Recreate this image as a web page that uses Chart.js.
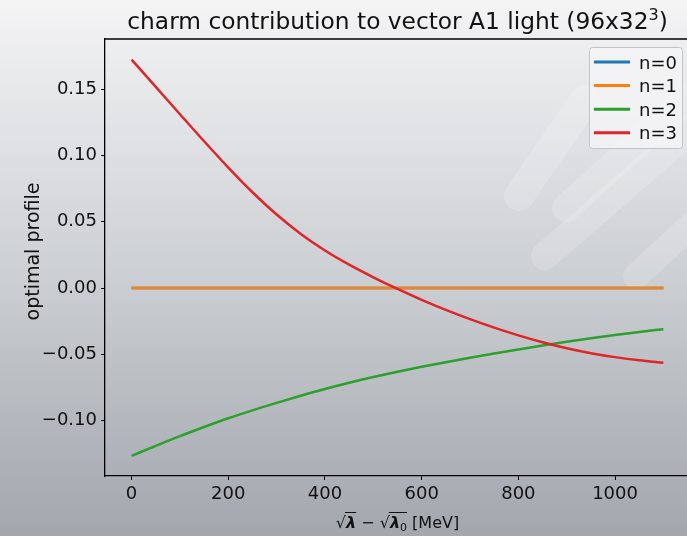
<!DOCTYPE html>
<html>
<head>
<meta charset="utf-8">
<script src="https://cdn.jsdelivr.net/npm/chart.js@4/dist/chart.umd.min.js"></script>
<style>
  html, body { margin: 0; padding: 0; overflow: hidden; width: 687px; height: 536px; background: #d0d3d6; }
  #wrap { position: relative; width: 693px; height: 536px; }
  canvas { display: block; }
</style>
</head>
<body>
<div id="wrap"><canvas id="chart" width="693" height="536"></canvas></div>
<script>
// sqrt(lambda) - sqrt(lambda_0) in MeV
const energies = [0, 50, 100, 150, 200, 250, 300, 350, 400, 450, 500, 550,
                  600, 650, 700, 750, 800, 850, 900, 950, 1000, 1050, 1100];

// optimal profile coefficients for each n
const profileN0 = [0, 0, 0, 0, 0, 0, 0, 0, 0, 0, 0, 0,
                   0, 0, 0, 0, 0, 0, 0, 0, 0, 0, 0];
const profileN1 = [0, 0, 0, 0, 0, 0, 0, 0, 0, 0, 0, 0,
                   0, 0, 0, 0, 0, 0, 0, 0, 0, 0, 0];
const profileN2 = [-0.1265, -0.1190, -0.1117, -0.1048, -0.0982, -0.0922, -0.0866, -0.0812,
                   -0.0761, -0.0714, -0.0671, -0.0631, -0.0594, -0.0559, -0.0526, -0.0494,
                   -0.0463, -0.0433, -0.0405, -0.0379, -0.0355, -0.0332, -0.0310];
const profileN3 = [0.1722, 0.1516, 0.1310, 0.1106, 0.0908, 0.0722, 0.0554, 0.0408,
                   0.0283, 0.0176, 0.0081, -0.0007, -0.0089, -0.0165, -0.0235, -0.0299,
                   -0.0357, -0.0409, -0.0454, -0.0491, -0.0521, -0.0545, -0.0563];

const seriesNames = ['n=0', 'n=1', 'n=2', 'n=3'];
const seriesColors = ['#1f77b4', '#ff7f0e', '#2ca02c', '#df2528'];
const seriesValues = [profileN0, profileN1, profileN2, profileN3];

const xTicks = [0, 200, 400, 600, 800, 1000];
const yTicks = [-0.10, -0.05, 0.00, 0.05, 0.10, 0.15];

const titleText = 'charm contribution to vector A1 light (96x32';
const titleSup = '3';
const yLabel = 'optimal profile';

const FONT = '"DejaVu Sans", "Liberation Sans", sans-serif';

const datasets = seriesValues.map((vals, i) => ({
  label: seriesNames[i],
  data: energies.map((e, k) => ({ x: e, y: vals[k] })),
  borderColor: seriesColors[i],
  backgroundColor: seriesColors[i],
  borderWidth: 2.5,
  pointRadius: 0,
  fill: false,
  cubicInterpolationMode: 'monotone',
  order: seriesValues.length - 1 - i
}));

// figure background: vertical grey gradient plus a faint diagonal emblem
const backdrop = {
  id: 'backdrop',
  beforeDraw(chart) {
    const { ctx, width, height } = chart;
    ctx.save();
    const g = ctx.createLinearGradient(0, 0, 0, height);
    g.addColorStop(0, '#f4f4f5');
    g.addColorStop(0.5, '#cdd0d4');
    g.addColorStop(1, '#a2a7ae');
    ctx.fillStyle = g;
    ctx.fillRect(0, 0, width, height);

    ctx.strokeStyle = 'rgba(255,255,255,0.17)';
    ctx.lineCap = 'round';
    const bars = [
      [519, 196, 585, 100, 30],
      [566, 208, 730, 60, 28],
      [545, 256, 730, 95, 28],
      [636, 276, 730, 190, 26]
    ];
    bars.forEach(([x1, y1, x2, y2, w]) => {
      ctx.lineWidth = w;
      ctx.beginPath();
      ctx.moveTo(x1, y1);
      ctx.lineTo(x2, y2);
      ctx.stroke();
    });
    ctx.restore();
  }
};

// title, axis labels, top spine and legend box
const decorations = {
  id: 'decorations',
  afterDraw(chart) {
    const { ctx, chartArea: a } = chart;
    ctx.save();
    ctx.fillStyle = '#111';

    // top spine
    ctx.strokeStyle = '#000';
    ctx.lineWidth = 1.3;
    ctx.beginPath();
    ctx.moveTo(a.left, a.top);
    ctx.lineTo(a.right, a.top);
    ctx.stroke();

    // title with superscript
    const cx = (a.left + a.right) / 2;
    const tFont = '23.3px ' + FONT;
    const sFont = '16px ' + FONT;
    ctx.font = tFont;
    const w1 = ctx.measureText(titleText).width;
    const w3 = ctx.measureText(')').width;
    ctx.font = sFont;
    const w2 = ctx.measureText(titleSup).width;
    let tx = cx - (w1 + w2 + w3) / 2;
    const ty = 29;
    ctx.textAlign = 'left';
    ctx.textBaseline = 'alphabetic';
    ctx.font = tFont;
    ctx.fillText(titleText, tx, ty);
    tx += w1;
    ctx.font = sFont;
    ctx.fillText(titleSup, tx, ty - 9.5);
    tx += w2;
    ctx.font = tFont;
    ctx.fillText(')', tx, ty);

    // y axis label
    ctx.save();
    ctx.translate(39, (a.top + a.bottom) / 2 - 6);
    ctx.rotate(-Math.PI / 2);
    ctx.font = '19px ' + FONT;
    ctx.textAlign = 'center';
    ctx.fillText(yLabel, 0, 0);
    ctx.restore();

    // x axis label: sqrt(lambda) - sqrt(lambda_0) [MeV]
    const base = 528;
    const mFont = '16px ' + FONT;
    const lFont = 'italic bold 16px ' + FONT;
    const subFont = '11px ' + FONT;
    const parts = [
      { t: '\u221A', f: mFont },
      { t: '\u03BB', f: lFont, bar: true },
      { t: ' \u2212 ', f: mFont },
      { t: '\u221A', f: mFont },
      { t: '\u03BB', f: lFont, bar: true, barExtra: 7 },
      { t: '0', f: subFont, dy: 3 },
      { t: ' [MeV]', f: mFont }
    ];
    let total = 0;
    parts.forEach(p => { ctx.font = p.f; p.w = ctx.measureText(p.t).width; total += p.w; });
    let px = cx - total / 2;
    ctx.textAlign = 'left';
    parts.forEach(p => {
      ctx.font = p.f;
      ctx.fillText(p.t, px, base + (p.dy || 0));
      if (p.bar) {
        ctx.strokeStyle = '#111';
        ctx.lineWidth = 1;
        ctx.beginPath();
        ctx.moveTo(px - 1, base - 15.5);
        ctx.lineTo(px + p.w + (p.barExtra || 0), base - 15.5);
        ctx.stroke();
      }
      px += p.w;
    });

    // legend
    const lx = a.right - 100.5, ly = a.top + 8.5, lw = 93, lh = 101;
    ctx.beginPath();
    ctx.roundRect(lx, ly, lw, lh, 3);
    ctx.fillStyle = 'rgba(246,246,247,0.75)';
    ctx.fill();
    ctx.strokeStyle = 'rgba(195,196,198,1)';
    ctx.lineWidth = 1;
    ctx.stroke();
    ctx.font = '18px ' + FONT;
    chart.data.datasets.forEach((ds, i) => {
      const ry = ly + 14.5 + i * 23.6;
      ctx.strokeStyle = ds.borderColor;
      ctx.lineWidth = 3;
      ctx.lineCap = 'butt';
      ctx.beginPath();
      ctx.moveTo(lx + 4.5, ry);
      ctx.lineTo(lx + 40.5, ry);
      ctx.stroke();
      ctx.fillStyle = '#111';
      ctx.fillText(ds.label, lx + 49.5, ry + 6.6);
    });
    ctx.restore();
  }
};

new Chart(document.getElementById('chart'), {
  type: 'line',
  data: { datasets },
  options: {
    responsive: false,
    animation: false,
    devicePixelRatio: 1,
    layout: { padding: { top: 39, right: 3, left: 0, bottom: 0 } },
    plugins: { legend: { display: false }, title: { display: false }, tooltip: { enabled: false } },
    scales: {
      x: {
        type: 'linear',
        min: -55,
        max: 1155,
        afterBuildTicks: s => { s.ticks = xTicks.map(v => ({ value: v })); },
        afterFit: s => { s.height = 60; },
        ticks: {
          autoSkip: false, maxRotation: 0, padding: 4, color: '#111',
          font: { family: FONT, size: 18 },
          callback: v => String(v)
        },
        grid: { drawOnChartArea: false, drawTicks: true, tickLength: 4, color: '#000', lineWidth: 1 },
        border: { display: true, color: '#000', width: 1.3 }
      },
      y: {
        type: 'linear',
        min: -0.1417,
        max: 0.1877,
        afterBuildTicks: s => { s.ticks = yTicks.map(v => ({ value: v })); },
        afterFit: s => { s.width = 105; },
        ticks: {
          autoSkip: false, padding: 4, color: '#111',
          font: { family: FONT, size: 18 },
          callback: v => v.toFixed(2).replace('-', '\u2212')
        },
        grid: { drawOnChartArea: false, drawTicks: true, tickLength: 4, color: '#000', lineWidth: 1 },
        border: { display: true, color: '#000', width: 1.3 }
      }
    }
  },
  plugins: [backdrop, decorations]
});
</script>
</body>
</html>
